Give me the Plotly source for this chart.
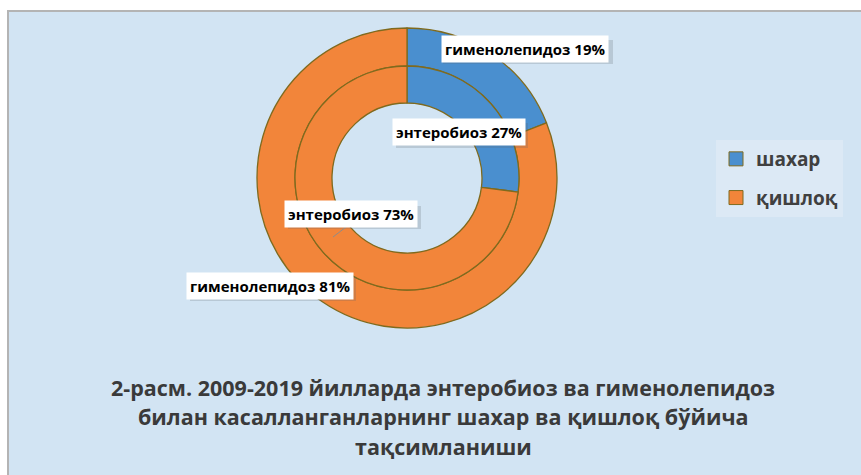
import plotly.graph_objects as go

# ---- data ----
categories = ["шахар", "қишлоқ"]
diseases = ["гименолепидоз", "энтеробиоз"]
gimenolepidoz = [19, 81]
enterobioz = [27, 73]
colors = ["#4A8FCF", "#F2853A"]
title_lines = [
    "2-расм. 2009-2019 йилларда энтеробиоз ва гименолепидоз",
    "билан касалланганларнинг шахар ва қишлоқ бўйича",
    "тақсимланиши",
]

W, H = 861, 475
cx, cy = 407, 178
R_out, R_mid, R_in = 150, 112, 75
edge = "#7F6A1E"
FONT = "Open Sans"


def dom(r):
    return dict(x=[(cx - r) / W, (cx + r) / W], y=[(H - cy - r) / H, (H - cy + r) / H])


def px(x, y):
    return x / W, 1 - y / H


fig = go.Figure()

fig.add_trace(go.Pie(
    labels=categories, values=gimenolepidoz, hole=R_mid / R_out, domain=dom(R_out),
    sort=False, direction="clockwise", rotation=0, textinfo="none",
    marker=dict(colors=colors, line=dict(color=edge, width=1.3)),
    showlegend=False, hoverinfo="label+value",
))
fig.add_trace(go.Pie(
    labels=categories, values=enterobioz, hole=R_in / R_mid, domain=dom(R_mid),
    sort=False, direction="clockwise", rotation=0, textinfo="none",
    marker=dict(colors=colors, line=dict(color=edge, width=1.3)),
    showlegend=False, hoverinfo="label+value",
))

# legend entries
for i, c in enumerate(categories):
    fig.add_trace(go.Scatter(
        x=[None], y=[None], mode="markers", name=c, legendgroup=c,
        marker=dict(symbol="square", size=14, color=colors[i], line=dict(color=edge, width=1)),
    ))

# data labels: (text, center x, center y, box x0, box x1, box y0, box y1)
label_specs = [
    (f"{diseases[0]} {gimenolepidoz[0]}%", 525, 49, 440, 610, 37, 61),
    (f"{diseases[1]} {enterobioz[0]}%", 459, 132, 393, 525, 120, 145),
    (f"{diseases[1]} {enterobioz[1]}%", 351, 214, 285, 418, 203, 226),
    (f"{diseases[0]} {gimenolepidoz[1]}%", 270, 286, 187, 353, 274, 298),
]
annotations = []
shapes = [
    dict(type="rect", xref="paper", yref="paper", x0=8 / W, x1=1.05, y0=-0.05, y1=1 - 11 / H,
         fillcolor="#D2E4F3", line=dict(color="#B4B4B4", width=2), layer="below"),
]
for txt, x, y, bx0, bx1, by0, by1 in label_specs:
    ax, ay = px(x, y)
    shapes.append(dict(
        type="rect", xref="paper", yref="paper",
        x0=(bx0 + 3) / W, x1=(bx1 + 3) / W, y0=1 - (by1 + 3) / H, y1=1 - (by0 + 3) / H,
        fillcolor="rgba(90,100,110,0.22)", line=dict(width=0), layer="above",
    ))
    annotations.append(dict(
        x=ax, y=ay, xref="paper", yref="paper", text=txt, showarrow=False,
        xanchor="center", yanchor="middle",
        font=dict(family=FONT, size=15, color="#000000", weight="bold"),
        bgcolor="#FFFFFF", borderpad=3,
    ))

shapes.append(dict(type="line", xref="paper", yref="paper",
                   x0=333 / W, y0=1 - 237 / H, x1=346 / W, y1=1 - 227 / H,
                   line=dict(color="#8C8C8C", width=1)))

for line, y in zip(title_lines, [387, 416, 446]):
    ax, ay = px(443, y)
    annotations.append(dict(
        x=ax, y=ay, xref="paper", yref="paper", text=line, showarrow=False,
        xanchor="center", yanchor="middle",
        font=dict(family=FONT, size=21.5, color="#3A3A3A", weight="bold"),
    ))

fig.update_layout(
    width=W, height=H, margin=dict(l=0, r=0, t=0, b=0),
    paper_bgcolor="#FFFFFF", plot_bgcolor="rgba(0,0,0,0)",
    xaxis=dict(visible=False), yaxis=dict(visible=False),
    annotations=annotations, shapes=shapes,
    legend=dict(
        x=716 / W, y=1 - 140 / H, xanchor="left", yanchor="top",
        bgcolor="#DCE9F5", borderwidth=0, tracegroupgap=11,
        font=dict(family=FONT, size=19, color="#404040", weight="bold"),
        itemwidth=30,
    ),
)

fig.write_html("out.html")
